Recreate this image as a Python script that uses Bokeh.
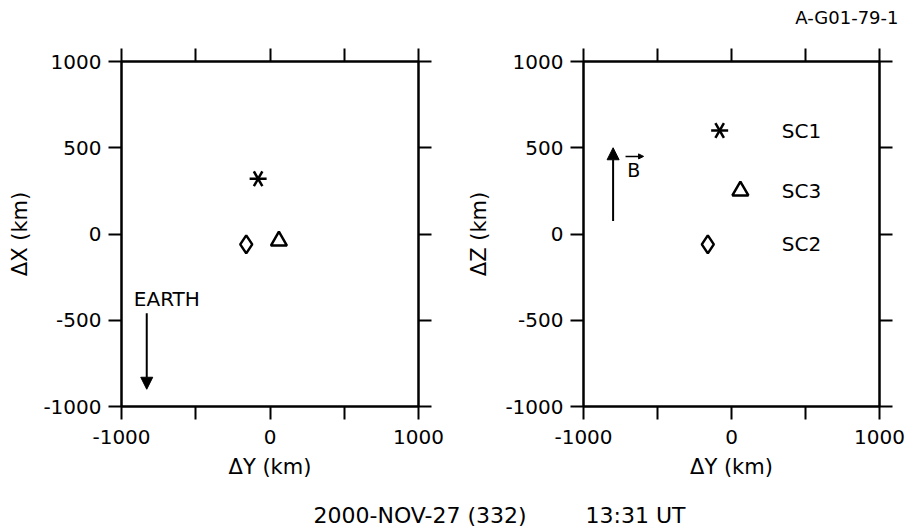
import math
from bokeh.plotting import figure
from bokeh.layouts import row, column
from bokeh.models import LinearAxis, FixedTicker, Label, Arrow, NormalHead, Range1d
from bokeh.embed import file_html
from bokeh.resources import INLINE
from bokeh.core.properties import value

# ---------------- data ----------------
sc_names = ["SC1", "SC2", "SC3"]
sc_dy = [-80, -160, 60]      # ΔY (km), same in both panels
sc_dx = [320, -60, -40]      # ΔX (km), left panel
sc_dz = [600, -60, 250]      # ΔZ (km), right panel
axis_ticks = [-1000, -500, 0, 500, 1000]
x_tick_labels = ["-1000", "", "0", "", "1000"]
y_tick_labels = ["-1000", "-500", "0", "500", "1000"]
title_text = "A-G01-79-1"
footer_date = "2000-NOV-27 (332)"
footer_time = "13:31 UT"

# annotation anchors (data units)
earth_label = dict(x=-917, y=-375)
earth_arrow = dict(x=-830, y0=-460, y1=-900)
b_arrow = dict(x=-800, y0=75, y1=500)
b_label = dict(x=-705, y=369)
b_vec = dict(x0=-716, x1=-594, y=450)
sc_label_x = 340

FONT = "DejaVu Sans"
TICK_FS = "20px"
LABEL_FS = "21px"
TEXT_FS = "20px"


def style_axis(ax, labels, standoff):
    ax.ticker = FixedTicker(ticks=axis_ticks)
    ax.minor_tick_line_color = None
    ax.major_tick_in = 0
    ax.major_tick_out = 13
    ax.major_tick_line_width = 2
    ax.major_tick_line_color = "black"
    ax.axis_line_width = 2
    ax.axis_line_color = "black"
    ax.major_label_overrides = {t: l for t, l in zip(axis_ticks, labels)}
    ax.major_label_text_font = FONT
    ax.major_label_text_font_size = TICK_FS
    ax.major_label_text_color = "black"
    ax.major_label_standoff = standoff
    ax.axis_label_text_font = FONT
    ax.axis_label_text_font_size = LABEL_FS
    ax.axis_label_text_font_style = "normal"
    ax.axis_label_text_color = "black"


def make_panel(width, left, right, yvals, ylabel, ylabel_standoff):
    p = figure(width=width, height=466, output_backend="svg", toolbar_location=None,
               x_range=Range1d(-1000, 1000), y_range=Range1d(-1000, 1000),
               min_border_left=left, min_border_right=right,
               min_border_top=27, min_border_bottom=94)
    p.grid.visible = False
    p.outline_line_color = "black"
    p.outline_line_width = 2
    p.background_fill_color = "white"
    p.border_fill_color = "white"
    style_axis(p.xaxis[0], x_tick_labels, 10)
    style_axis(p.yaxis[0], y_tick_labels, 7)
    p.xaxis[0].axis_label = "ΔY (km)"
    p.xaxis[0].axis_label_standoff = 8
    p.yaxis[0].axis_label = ylabel
    p.yaxis[0].axis_label_standoff = ylabel_standoff
    top = LinearAxis()
    style_axis(top, [""] * 5, 0)
    top.major_label_text_font_size = "0px"
    p.add_layout(top, "above")
    rgt = LinearAxis()
    style_axis(rgt, [""] * 5, 0)
    rgt.major_label_text_font_size = "0px"
    p.add_layout(rgt, "right")

    # SC1: six-spoke asterisk
    for ang in (0, math.pi / 3, 2 * math.pi / 3):
        p.scatter(x=[sc_dy[0]], y=[yvals[0]], marker="dash", size=17, angle=ang,
                  line_color="black", line_width=2.5)
    # SC2: diamond
    p.scatter(x=[sc_dy[1]], y=[yvals[1]], marker="diamond", size=18,
              fill_color="white", line_color="black", line_width=2.5)
    # SC3: triangle
    p.scatter(x=[sc_dy[2]], y=[yvals[2]], marker="triangle", size=16,
              fill_color="white", line_color="black", line_width=2.5)
    return p


p1 = make_panel(459, 121, 41, sc_dx, "ΔX (km)", 8)
p2 = make_panel(447, 124, 27, sc_dz, "ΔZ (km)", 11)

# left panel: EARTH arrow
p1.add_layout(Label(x=earth_label["x"], y=earth_label["y"], text="EARTH",
                    text_font=FONT, text_font_size=TEXT_FS, text_baseline="middle",
                    text_align="left", text_color="black"))
p1.add_layout(Arrow(x_start=earth_arrow["x"], y_start=earth_arrow["y0"],
                    x_end=earth_arrow["x"], y_end=earth_arrow["y1"],
                    line_width=2, line_color="black",
                    end=NormalHead(size=12, fill_color="black", line_color="black")))

# right panel: labels, B arrow
p2.text(x=[sc_label_x] * 3, y=sc_dz, text=sc_names, text_baseline="middle",
        text_align="left", text_font=value(FONT), text_font_size=TEXT_FS,
        text_color="black")
p2.add_layout(Arrow(x_start=b_arrow["x"], y_start=b_arrow["y0"],
                    x_end=b_arrow["x"], y_end=b_arrow["y1"],
                    line_width=2, line_color="black",
                    end=NormalHead(size=12, fill_color="black", line_color="black")))
p2.add_layout(Label(x=b_label["x"], y=b_label["y"], text="B", text_font=FONT,
                    text_font_size="19px", text_baseline="middle", text_align="left",
                    text_color="black"))
p2.add_layout(Arrow(x_start=b_vec["x0"], y_start=b_vec["y"], x_end=b_vec["x1"],
                    y_end=b_vec["y"], line_width=1.5, line_color="black",
                    end=NormalHead(size=5, fill_color="black", line_color="black")))


def text_strip(height):
    f = figure(width=906, height=height, output_backend="svg", toolbar_location=None,
               x_range=Range1d(0, 906), y_range=Range1d(0, height),
               x_axis_location=None, y_axis_location=None, min_border=0)
    f.grid.visible = False
    f.outline_line_color = None
    f.border_fill_color = "white"
    f.background_fill_color = "white"
    return f


# header (figure id)
ph = text_strip(34)
ph.add_layout(Label(x=898, y=17, text=title_text, text_font=FONT, text_font_size="18px",
                    text_align="right", text_baseline="middle", text_color="black"))

# footer (date / time)
pf = text_strip(29)
pf.add_layout(Label(x=313, y=14.5, text=footer_date, text_font=FONT, text_font_size="22px",
                    text_baseline="middle", text_align="left", text_color="black"))
pf.add_layout(Label(x=585, y=14.5, text=footer_time, text_font=FONT, text_font_size="22px",
                    text_baseline="middle", text_align="left", text_color="black"))

layout = column(ph, row(p1, p2, spacing=0), pf, spacing=0)
open("out.html", "w").write(file_html(layout, INLINE))
